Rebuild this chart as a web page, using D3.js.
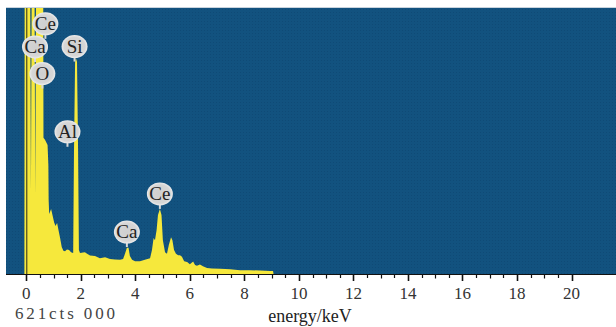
<!DOCTYPE html>
<html>
<head>
<meta charset="utf-8">
<script src="https://cdn.jsdelivr.net/npm/d3@7"></script>
<style>
  body { margin: 0; background: #fff; }
  svg { display: block; }
  svg text { font-family: "Liberation Serif"; }
</style>
</head>
<body>
<svg width="616" height="327"></svg>
<script>
// spectrum outline (energy in keV, counts)
var energy = [-0.07, -0.06, 0.14, 0.17, 0.20, 0.30, 0.33, 0.36, 0.62, 0.63, 0.69, 0.78, 0.81, 0.82,
    0.84, 0.91, 0.96, 1.02, 1.07, 1.13, 1.18, 1.24, 1.30, 1.36, 1.42, 1.49, 1.57, 1.64, 1.72,
    1.75, 1.79, 1.82, 1.86, 1.90, 1.93, 1.97, 2.08, 2.15, 2.23, 2.34, 2.52, 2.70, 2.89, 3.07,
    3.25, 3.44, 3.55, 3.62, 3.69, 3.75, 3.80, 3.88, 3.99, 4.17, 4.35, 4.54, 4.61, 4.67, 4.72,
    4.78, 4.83, 4.90, 4.96, 5.01, 5.09, 5.16, 5.23, 5.31, 5.36, 5.42, 5.49, 5.57, 5.64, 5.71,
    5.79, 5.90, 6.00, 6.12, 6.19, 6.26, 6.37, 6.48, 6.63, 6.81, 7.11, 7.48, 7.84, 8.21, 8.58,
    8.94, 9.05, 9.07];
var counts = [0, 700, 700, 196, 700, 700, 184, 700, 700, 318, 313, 301, 254, 173,
    140, 152, 138, 121, 112, 119, 103, 84, 63, 54, 53, 57, 56, 51, 49,
    289, 495, 504, 495, 289, 56, 49, 50, 51, 47, 43, 42, 37, 39, 35,
    34, 33, 35, 47, 61, 61, 42, 33, 30, 30, 33, 37, 56, 84, 79,
    103, 138, 152, 138, 79, 51, 47, 68, 86, 79, 56, 47, 44, 44, 40,
    30, 28, 23, 29, 21, 19, 22, 18, 14, 13, 12, 11, 9, 9, 8,
    7, 7, 0];

// peak labels
var labelNames = ['Ca', 'Ce', 'O', 'Si', 'Al', 'Ca', 'Ce'];
var labelEnergy = [0.32, 0.70, 0.59, 1.77, 1.51, 3.69, 4.90];
var labelLevel = [530, 584, 468, 531, 332, 98, 187];

var tickLabels = [0, 2, 4, 6, 8, 10, 12, 14, 16, 18, 20];
var fullScale = 621;

var svg = d3.select('svg');
var plot = {l: 6, r: 616, t: 8, b: 274};

var xScale = d3.scaleLinear()
    .domain([0, 20])
    .range([26.3, 571.5]);
var yScale = d3.scaleLinear()
    .domain([0, fullScale])
    .range([plot.b, plot.t]);

var defs = svg.append('defs');
defs.append('clipPath').attr('id', 'plotClip')
    .append('rect')
    .attr('x', plot.l).attr('y', plot.t)
    .attr('width', plot.r - plot.l).attr('height', plot.b - plot.t);

var pat = defs.append('pattern').attr('id', 'dots')
    .attr('width', 3).attr('height', 3)
    .attr('patternUnits', 'userSpaceOnUse');
pat.append('rect').attr('width', 3).attr('height', 3).attr('fill', '#12527f');
pat.append('rect').attr('width', 1).attr('height', 1).attr('fill', '#0f4a76');

var grad = defs.append('radialGradient').attr('id', 'bubble');
grad.append('stop').attr('offset', '0%').attr('stop-color', '#cfcfcf');
grad.append('stop').attr('offset', '80%').attr('stop-color', '#d6d6d6');
grad.append('stop').attr('offset', '100%').attr('stop-color', '#ececec');

// background
svg.append('rect')
    .attr('x', plot.l).attr('y', plot.t - 1)
    .attr('width', plot.r - plot.l).attr('height', 1)
    .attr('fill', '#c9d3dd');
svg.append('rect')
    .attr('x', plot.l).attr('y', plot.t)
    .attr('width', plot.r - plot.l).attr('height', plot.b - plot.t)
    .attr('fill', 'url(#dots)');

var chartG = svg.append('g').attr('clip-path', 'url(#plotClip)');

var pts = energy.map(function(e, i) { return [e, counts[i]]; });

var area = d3.area()
    .x(function(d) { return xScale(d[0]); })
    .y0(plot.b)
    .y1(function(d) { return yScale(d[1]); });

chartG.append('path')
    .datum(pts)
    .attr('d', area)
    .attr('fill', '#f6e83c');

// zero marker line
chartG.append('line')
    .attr('x1', xScale(0) + 0.5).attr('x2', xScale(0) + 0.5)
    .attr('y1', plot.t).attr('y2', plot.b)
    .attr('stroke', '#2a2a1a').attr('stroke-width', 1);

// baseline
svg.append('line')
    .attr('x1', plot.l).attr('x2', plot.r)
    .attr('y1', plot.b + 0.5).attr('y2', plot.b + 0.5)
    .attr('stroke', '#111').attr('stroke-width', 1);

// ticks every 0.5 keV
var minor = d3.range(0, 20.01, 0.5);
svg.append('g').selectAll('line')
    .data(minor)
    .enter().append('line')
    .attr('x1', function(d) { return Math.round(xScale(d)) + 0.5; })
    .attr('x2', function(d) { return Math.round(xScale(d)) + 0.5; })
    .attr('y1', plot.b)
    .attr('y2', function(d) {
        if (d % 2 === 0) return plot.b + 7;
        if (d % 1 === 0) return plot.b + 4.5;
        return plot.b + 4;
    })
    .attr('stroke', '#111')
    .attr('stroke-width', function(d) { return d % 2 === 0 ? 1.6 : 1.2; });

svg.append('g').selectAll('text')
    .data(tickLabels)
    .enter().append('text')
    .attr('x', function(d) { return xScale(d); })
    .attr('y', 299)
    .attr('text-anchor', 'middle')
    .attr('font-size', 17)
    .attr('fill', '#333')
    .text(function(d) { return d; });

svg.append('text')
    .attr('x', 15).attr('y', 319)
    .attr('font-size', 17)
    .attr('fill', '#444')
    .attr('textLength', 100)
    .attr('lengthAdjust', 'spacing')
    .text(fullScale + 'cts 000');

svg.append('text')
    .attr('x', 310).attr('y', 322)
    .attr('text-anchor', 'middle')
    .attr('font-size', 18)
    .attr('fill', '#222')
    .text('energy/keV');

// peak label bubbles
var lab = svg.append('g').selectAll('g')
    .data(labelNames)
    .enter().append('g')
    .attr('transform', function(d, i) {
        return 'translate(' + [xScale(labelEnergy[i]), yScale(labelLevel[i])] + ')';
    });

lab.append('line')
    .attr('x1', 0).attr('x2', 0)
    .attr('y1', 9).attr('y2', 15)
    .attr('stroke', '#d8d8d8').attr('stroke-width', 2);

lab.append('ellipse')
    .attr('rx', 13).attr('ry', 11.5)
    .attr('fill', 'url(#bubble)');

lab.append('text')
    .attr('y', 6)
    .attr('text-anchor', 'middle')
    .attr('font-size', 19)
    .attr('fill', '#222')
    .text(function(d) { return d; });
</script>
</body>
</html>
